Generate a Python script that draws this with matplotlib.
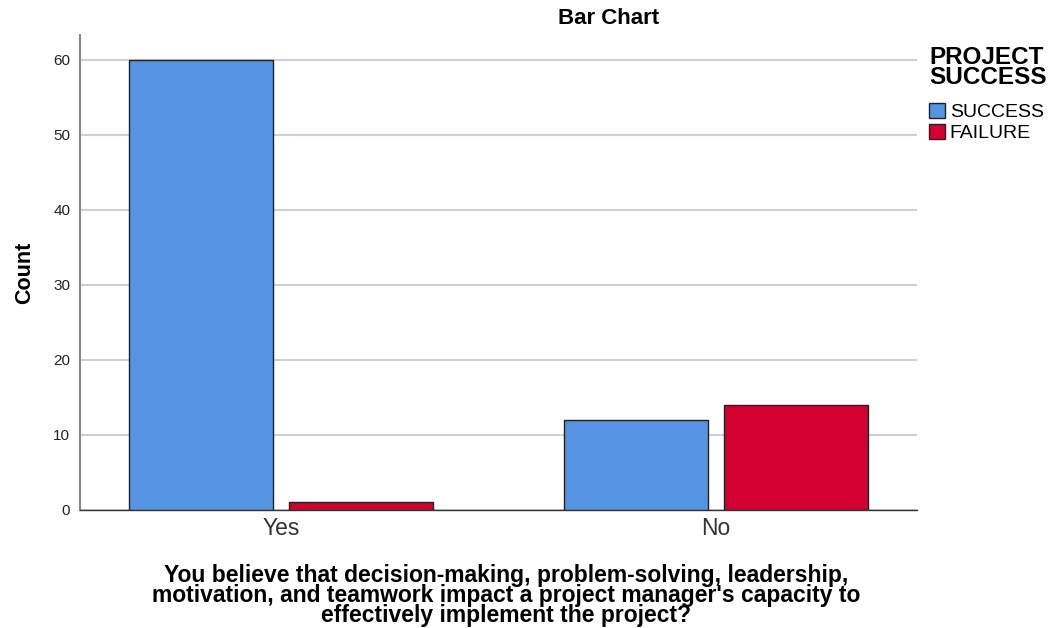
import matplotlib.pyplot as plt
import numpy as np
from matplotlib.patches import Patch

plt.rcParams['font.family'] = ['Liberation Sans', 'DejaVu Sans']

categories = ['Yes', 'No']
success = [60, 12]
failure = [1, 14]
series_names = ['SUCCESS', 'FAILURE']
yticks = [0, 10, 20, 30, 40, 50, 60]

blue = '#5594E2'
red = '#D50032'

fig = plt.figure(figsize=(10.5, 6.28), dpi=100)
ax = fig.add_axes([0.0762, 0.1879, 0.797, 0.7564])

x = np.arange(len(categories))
w = 0.331
off = 0.184
ax.bar(x - off, success, w, color=blue, edgecolor='#222222', linewidth=1, zorder=3)
ax.bar(x + off, failure, w, color=red, edgecolor='#222222', linewidth=1, zorder=3)

ax.set_xlim(-0.462, 1.462)
ax.set_ylim(0, 63.3)
ax.set_xticks(x)
ax.set_xticklabels(categories, fontsize=16.5, color='#333333')
ax.set_yticks(yticks)
ax.tick_params(axis='y', labelsize=11, length=0, pad=7, colors='#222222')
ax.tick_params(axis='x', length=0, pad=5)
ax.yaxis.grid(True, color='#d0d0d0', linewidth=1.5, zorder=0)
ax.set_axisbelow(True)

for s in ['top', 'right']:
    ax.spines[s].set_visible(False)
ax.spines['left'].set_color('#888888')
ax.spines['left'].set_linewidth(1.5)
ax.spines['bottom'].set_color('#333333')
ax.spines['bottom'].set_linewidth(1)

ax.set_ylabel('Count', fontsize=15.5, fontweight='bold', labelpad=13)
ax.set_xlabel("You believe that decision-making, problem-solving, leadership,\n"
              "motivation, and teamwork impact a project manager's capacity to\n"
              "effectively implement the project?",
              fontsize=16.5, fontweight='bold', linespacing=0.84)
ax.xaxis.set_label_coords(0.509, -0.113, transform=ax.transAxes)
ax.xaxis.label.set_va('top')

fig.text(0.58, 0.971, 'Bar Chart', ha='center', va='center', fontsize=16, fontweight='bold')

handles = [Patch(facecolor=blue, edgecolor='#222222'), Patch(facecolor=red, edgecolor='#222222')]
leg = fig.legend(handles, series_names, title='PROJECT\nSUCCESS', loc='upper left',
                 bbox_to_anchor=(0.885, 0.927), frameon=False, fontsize=14,
                 handlelength=0.8, handleheight=0.8, handletextpad=0.25,
                 labelspacing=0.15, borderaxespad=0, borderpad=0)
leg.get_title().set_fontweight('bold')
leg.get_title().set_fontsize(17.5)
leg.get_title().set_linespacing(0.85)
leg._legend_box.align = 'left'
leg._legend_box.sep = 10

fig.savefig('out.png', dpi=100)
